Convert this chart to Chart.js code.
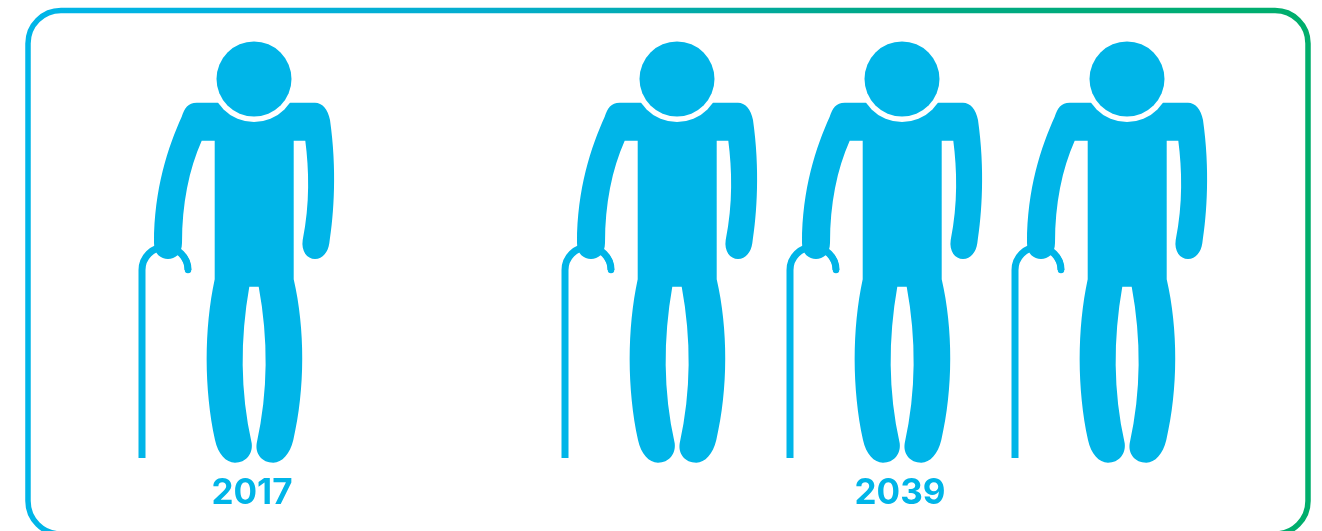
<!DOCTYPE html>
<html>
<head>
<meta charset="utf-8">
<title>2017 / 2039</title>
<script src="https://cdn.jsdelivr.net/npm/chart.js@4/dist/chart.umd.min.js"></script>
<style>
  html, body { margin: 0; padding: 0; background: #fff; overflow: hidden; }
  canvas { display: block; }
</style>
</head>
<body>
<canvas id="grafico" width="1322" height="531"></canvas>
<script>
var anos = ['2017', '2039'];
var idosos = [1, 3];
var centrosAnos = [0, 2.88];

var azul = '#00B5E8';

// boneco com bengala, origem no centro da cabeca
function desenharBoneco() {
  var sprite = document.createElement('canvas');
  sprite.width = 240;
  sprite.height = 460;
  var c = sprite.getContext('2d');
  c.translate(122, 74);
  c.fillStyle = azul;
  c.strokeStyle = azul;

  // bengala
  c.lineWidth = 7;
  c.beginPath();
  c.moveTo(-112, 379);
  c.lineTo(-112, 191);
  c.arc(-89, 191, 23, Math.PI, 0);
  c.stroke();
  c.lineCap = 'round';
  c.lineWidth = 6.5;
  c.beginPath();
  c.arc(-89, 191, 23, -0.6, 0);
  c.stroke();

  // corpo
  c.beginPath();
  c.moveTo(-57.3, 23.7);
  c.bezierCurveTo(-66, 23.7, -69.5, 29, -72.3, 37.7);
  c.bezierCurveTo(-86, 68, -100, 110, -100, 164);
  c.bezierCurveTo(-100, 175, -93, 180, -86, 180);
  c.bezierCurveTo(-79, 180, -72, 175, -72, 164);
  c.bezierCurveTo(-72, 125, -65, 90, -52.3, 61.7);
  c.lineTo(-39.3, 61.7);
  c.lineTo(-39.3, 200.3);
  // perna esquerda
  c.bezierCurveTo(-50, 250, -50, 310, -39, 361);
  c.bezierCurveTo(-36, 375, -28, 383.7, -19, 383.7);
  c.bezierCurveTo(-8, 383.7, -1, 375, -2.3, 364.3);
  c.bezierCurveTo(-13.9, 312, -13.9, 260, -4.7, 207.7);
  c.lineTo(4.7, 207.7);
  // perna direita
  c.bezierCurveTo(14.3, 260, 14.3, 312, 2.7, 364.3);
  c.bezierCurveTo(1, 375, 8, 383.7, 19.3, 383.7);
  c.bezierCurveTo(28, 383.7, 36, 375, 39.3, 361);
  c.bezierCurveTo(51.2, 310, 51.2, 250, 39.7, 200.3);
  c.lineTo(39.7, 61.7);
  c.lineTo(51.3, 61.7);
  // braco direito
  c.bezierCurveTo(55, 90, 56, 125, 48.7, 161);
  c.bezierCurveTo(47, 172, 53, 180, 61, 180);
  c.bezierCurveTo(69, 180, 74, 173, 75.3, 164.3);
  c.bezierCurveTo(80, 135, 83, 90, 76, 41);
  c.bezierCurveTo(74, 30, 68, 23.7, 61, 23.7);
  c.closePath();
  c.fill();

  // vao entre a cabeca e os ombros
  c.globalCompositeOperation = 'destination-out';
  c.beginPath();
  c.arc(0, 0, 43, 0, Math.PI * 2);
  c.fill();
  c.globalCompositeOperation = 'source-over';

  c.beginPath();
  c.arc(0, 0, 37.5, 0, Math.PI * 2);
  c.fill();
  return sprite;
}

// moldura arredondada com degrade
var moldura = {
  id: 'moldura',
  beforeDraw: function (chart) {
    var ctx = chart.ctx;
    var degrade = ctx.createLinearGradient(28, 0, 1308, 0);
    degrade.addColorStop(0, '#00B5E8');
    degrade.addColorStop(0.35, '#04ADCF');
    degrade.addColorStop(0.65, '#00A88A');
    degrade.addColorStop(1, '#00AE6C');
    ctx.save();
    ctx.strokeStyle = degrade;
    ctx.lineWidth = 5.5;
    ctx.beginPath();
    ctx.roundRect(28, 10.5, 1280, 523.5, 33);
    ctx.stroke();
    ctx.restore();
  }
};

var boneco = desenharBoneco();

// um boneco por unidade, lado a lado em torno do centro de cada ano
var pontos = [];
for (var a = 0; a < anos.length; a++) {
  for (var i = 0; i < idosos[a]; i++) {
    pontos.push({ x: centrosAnos[a] + i - (idosos[a] - 1) / 2, y: 0 });
  }
}

const ctx = document.getElementById('grafico');

const myChart = new Chart(ctx, {
  type: 'scatter',
  data: {
    datasets: [{
      label: 'Idosos',
      data: pontos,
      pointStyle: boneco,
      pointRadius: 5,
      clip: false
    }]
  },
  plugins: [moldura],
  options: {
    responsive: false,
    animation: false,
    layout: { autoPadding: false, padding: { left: 0, right: 0, top: 0, bottom: 15 } },
    plugins: {
      legend: { display: false },
      tooltip: { enabled: false }
    },
    scales: {
      x: {
        type: 'linear',
        min: -252 / 225,
        max: 1070 / 225,
        grid: { display: false, drawTicks: false },
        border: { display: false },
        afterBuildTicks: function (scale) {
          scale.ticks = centrosAnos.map(function (v) { return { value: v }; });
        },
        ticks: {
          autoSkip: false,
          maxRotation: 0,
          padding: 2,
          color: azul,
          font: { family: 'Inter', size: 35, weight: '700' },
          callback: function (valor) {
            return anos[centrosAnos.indexOf(valor)];
          }
        }
      },
      y: {
        display: false,
        min: -1,
        max: 1
      }
    }
  }
});
</script>
</body>
</html>
